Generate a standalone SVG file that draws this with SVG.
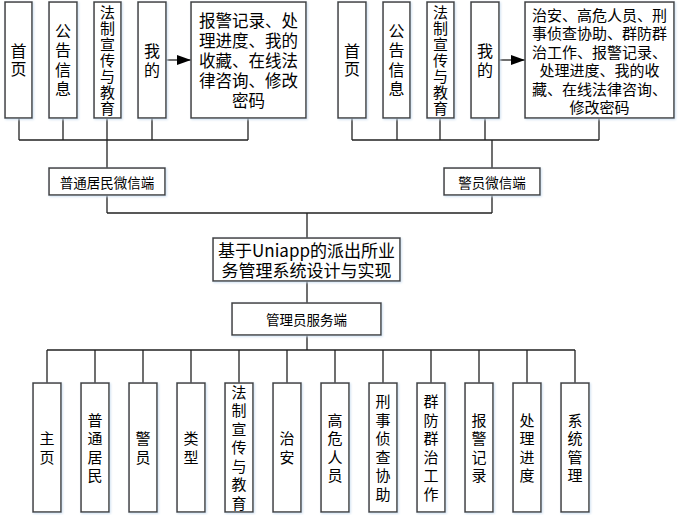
<svg xmlns="http://www.w3.org/2000/svg" width="678" height="515" viewBox="0 0 678 515">
<defs>
<filter id="sh" x="-20%" y="-20%" width="140%" height="140%">
<feDropShadow dx="1" dy="1" stdDeviation="1.2" flood-color="#c9dcef" flood-opacity="0.9"/>
</filter>
<marker id="arr" markerUnits="userSpaceOnUse" markerWidth="15" markerHeight="12" refX="14" refY="5" orient="auto">
<path d="M0,0 L14,5 L0,10 Z" fill="#000"/>
</marker>
</defs>
<style>
rect{fill:#fff;stroke:#3c3c3c;stroke-width:1.5;filter:url(#sh)}
text{font-family:"Noto Sans CJK SC","Microsoft YaHei",sans-serif;fill:#000;text-anchor:middle;dominant-baseline:central}
.vt{writing-mode:vertical-rl;dominant-baseline:auto}
.v16{font-size:16px}
.v15{font-size:15px}
.bt{font-size:15px;letter-spacing:3.5px}
.big{font-size:16.5px}
.big2{font-size:15px}
.mid{font-size:13.5px}
.main{font-size:17px}
.ln{fill:none;stroke:#222;stroke-width:1.3}
</style>
<rect x="0" y="0" width="678" height="515" style="fill:#fff;stroke:none;filter:none"/>
<g id="connectors">
<path class="ln" d="M19,118V140M63,118V140M107,118V168M152,118V140M248,118V140M19,140H248"/>
<path class="ln" d="M352,118V140M397,118V140M440,118V140M485,118V140M599,118V140M352,140H599M492,140V168"/>
<path class="ln" d="M107,195V213M492,195V213M107,213H492M307,213V238M307,281V303M307,335V350M47,350H575"/>
<path class="ln" d="M47,350V383M95,350V383M143,350V383M191,350V383M239,350V383M287,350V383M335,350V383M383,350V383M431,350V383M479,350V383M527,350V383M575,350V383"/>
<path class="ln" d="M166,60H191" marker-end="url(#arr)"/>
<path class="ln" d="M499,60H525" marker-end="url(#arr)"/>
</g>
<g id="l_home"><rect x="5" y="2" width="27" height="116"/><text class="vt v16" x="18.5" y="61" style="letter-spacing:2px">首页</text></g>
<g id="l_notice"><rect x="49" y="2" width="28" height="116"/><text class="vt v16" x="63" y="61.5" style="letter-spacing:3.5px">公告信息</text></g>
<g id="l_law"><rect x="94" y="2" width="27" height="116"/><text class="vt v15" x="107.5" y="60.5" style="letter-spacing:1px">法制宣传与教育</text></g>
<g id="l_mine"><rect x="138" y="2" width="28" height="116"/><text class="vt v16" x="152" y="61.5" style="letter-spacing:3px">我的</text></g>
<g id="l_mine_detail"><rect x="191" y="2" width="115" height="116"/><text class="big"><tspan x="248.5" y="20">报警记录、处</tspan><tspan x="248.5" y="40">理进度、我的</tspan><tspan x="248.5" y="60">收藏、在线法</tspan><tspan x="248.5" y="80">律咨询、修改</tspan><tspan x="248.5" y="100">密码</tspan></text></g>
<g id="r_home"><rect x="338" y="2" width="28" height="116"/><text class="vt v16" x="352" y="61" style="letter-spacing:2px">首页</text></g>
<g id="r_notice"><rect x="383" y="2" width="27" height="116"/><text class="vt v16" x="396.5" y="61.5" style="letter-spacing:3.5px">公告信息</text></g>
<g id="r_law"><rect x="427" y="2" width="27" height="116"/><text class="vt v15" x="440.5" y="60.5" style="letter-spacing:1px">法制宣传与教育</text></g>
<g id="r_mine"><rect x="471" y="2" width="28" height="116"/><text class="vt v16" x="485" y="61.5" style="letter-spacing:3px">我的</text></g>
<g id="r_mine_detail"><rect x="525" y="2" width="149" height="116"/><text class="big2"><tspan x="599.5" y="13.5">治安、高危人员、刑</tspan><tspan x="599.5" y="32">事侦查协助、群防群</tspan><tspan x="599.5" y="50.5">治工作、报警记录、</tspan><tspan x="599.5" y="69">处理进度、我的收</tspan><tspan x="599.5" y="87.5">藏、在线法律咨询、</tspan><tspan x="599.5" y="106">修改密码</tspan></text></g>
<g id="resident_client"><rect x="49" y="168" width="116" height="27"/><text class="mid" x="107" y="181.5">普通居民微信端</text></g>
<g id="police_client"><rect x="444" y="168" width="96" height="27"/><text class="mid" x="492" y="181.5">警员微信端</text></g>
<g id="system"><rect x="213" y="238" width="187" height="43"/><text class="main"><tspan x="306.5" y="249">基于Uniapp的派出所业</tspan><tspan x="306.5" y="269">务管理系统设计与实现</tspan></text></g>
<g id="admin"><rect x="232" y="303" width="149" height="32"/><text class="mid" x="306.5" y="319">管理员服务端</text></g>
<g id="b_home"><rect x="33" y="383" width="28" height="129"/><text class="vt bt" x="47" y="449.5">主页</text></g>
<g id="b_resident"><rect x="81" y="383" width="28" height="129"/><text class="vt bt" x="95" y="449.5">普通居民</text></g>
<g id="b_police"><rect x="129" y="383" width="28" height="129"/><text class="vt bt" x="143" y="449.5">警员</text></g>
<g id="b_type"><rect x="177" y="383" width="28" height="129"/><text class="vt bt" x="191" y="449.5">类型</text></g>
<g id="b_law"><rect x="225" y="383" width="28" height="129"/><text class="vt bt" x="239" y="449.5">法制宣传与教育</text></g>
<g id="b_security"><rect x="273" y="383" width="28" height="129"/><text class="vt bt" x="287" y="449.5">治安</text></g>
<g id="b_highrisk"><rect x="321" y="383" width="28" height="129"/><text class="vt bt" x="335" y="449.5">高危人员</text></g>
<g id="b_criminal"><rect x="369" y="383" width="28" height="129"/><text class="vt bt" x="383" y="449.5">刑事侦查协助</text></g>
<g id="b_community"><rect x="417" y="383" width="28" height="129"/><text class="vt bt" x="431" y="449.5">群防群治工作</text></g>
<g id="b_alarm"><rect x="465" y="383" width="28" height="129"/><text class="vt bt" x="479" y="449.5">报警记录</text></g>
<g id="b_progress"><rect x="513" y="383" width="28" height="129"/><text class="vt bt" x="527" y="449.5">处理进度</text></g>
<g id="b_sysmgmt"><rect x="561" y="383" width="28" height="129"/><text class="vt bt" x="575" y="449.5">系统管理</text></g>
</svg>
